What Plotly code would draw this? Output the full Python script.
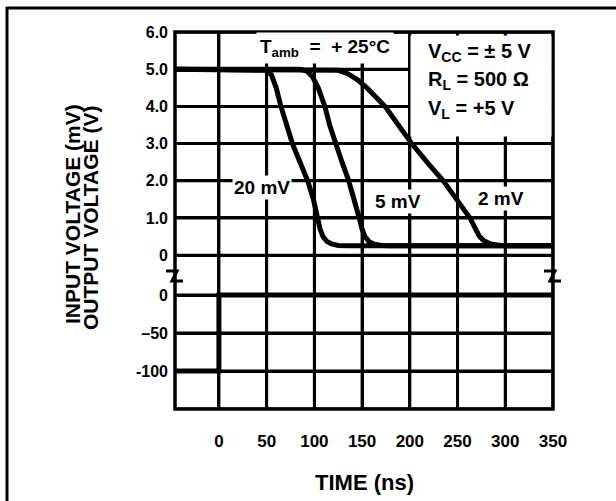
import plotly.graph_objects as go
from plotly.subplots import make_subplots

# ---------------- data ----------------
time_20mv = [-46, 45, 50, 55, 60, 65, 71, 77, 85, 93, 99, 103, 106, 109, 113, 118, 125, 135, 350]
vout_20mv = [5.0, 5.0, 4.97, 4.85, 4.5, 4.0, 3.5, 3.0, 2.5, 2.0, 1.5, 1.0, 0.7, 0.5, 0.37, 0.3, 0.26, 0.25, 0.25]

time_5mv = [-46, 85, 92, 98, 104, 111, 116, 122, 129, 136, 142, 147, 150, 153, 157, 162, 170, 180, 350]
vout_5mv = [5.0, 5.0, 4.95, 4.8, 4.5, 4.0, 3.5, 3.0, 2.5, 2.0, 1.5, 1.0, 0.7, 0.5, 0.37, 0.3, 0.26, 0.25, 0.25]

time_2mv = [-46, 115, 125, 135, 145, 155, 165, 174, 188, 202, 218, 235, 249, 263, 268, 273, 278, 285, 295, 305, 350]
vout_2mv = [5.0, 5.0, 4.97, 4.88, 4.72, 4.5, 4.25, 4.0, 3.5, 3.0, 2.5, 2.0, 1.5, 1.0, 0.75, 0.5, 0.38, 0.3, 0.26, 0.25, 0.25]

time_in = [-46, 0, 0, 350]
vin_mv = [-100, -100, 0, 0]

x_ticks = [0, 50, 100, 150, 200, 250, 300, 350]
x_ticktext = ["0", "50", "100", "150", "200", "250", "300", "350"]
out_ticks = [0, 1, 2, 3, 4, 5, 6]
out_ticktext = ["0", "1.0", "2.0", "3.0", "4.0", "5.0", "6.0"]
in_ticks = [-150, -100, -50, 0]
in_ticktext = [" ", "-100", "\u201350", "0"]

curve_labels = [("20 mV", 45, 1.83), ("5 mV", 188, 1.45), ("2 mV", 296, 1.53)]

# ---------------- layout geometry (pixels) ----------------
W, H = 616, 501
L, R, T, B = 175, 553, 32, 409
pw, ph = R - L, B - T
split_px = 276
split = (B - split_px) / ph

def xp(px):
    return (px - L) / pw

def yp(py):
    return (B - py) / ph

fig = make_subplots(rows=2, cols=1, shared_xaxes=False, vertical_spacing=0,
                    row_heights=[1 - split, split])
fig.update_layout(yaxis=dict(domain=[split, 1]), yaxis2=dict(domain=[0, split]))

for tx, vy in [(time_20mv, vout_20mv), (time_5mv, vout_5mv), (time_2mv, vout_2mv)]:
    fig.add_trace(go.Scatter(x=tx, y=vy, mode="lines", line=dict(color="black", width=5),
                             showlegend=False, hoverinfo="skip"), row=1, col=1)
fig.add_trace(go.Scatter(x=time_in, y=vin_mv, mode="lines", line=dict(color="black", width=5),
                         showlegend=False, hoverinfo="skip"), row=2, col=1)

FONT = "Liberation Sans, Arial, sans-serif"
tickfont = dict(family=FONT, size=16, color="black", weight="bold")
grid = dict(showgrid=True, gridcolor="black", gridwidth=3, zeroline=False, showline=False,
            ticks="", automargin=False)

fig.update_xaxes(range=[-46, 350], tickvals=x_ticks, ticktext=x_ticktext, **grid)
fig.update_xaxes(showticklabels=False, row=1, col=1)
fig.update_xaxes(showticklabels=True, tickfont=dict(tickfont, size=17), ticklabelstandoff=20, row=2, col=1)
fig.update_yaxes(range=[-0.56, 6], tickvals=out_ticks, ticktext=out_ticktext, tickfont=tickfont,
                 ticklabelstandoff=6, row=1, col=1, **grid)
fig.update_yaxes(range=[-150, 25], tickvals=in_ticks, ticktext=in_ticktext, tickfont=tickfont,
                 ticklabelstandoff=6, row=2, col=1, **grid)

gline = dict(color="black", width=3)
shapes = []
# grid lines following the axis ticks
for xv in x_ticks:
    shapes.append(dict(type="line", xref="x", yref="paper", x0=xv, x1=xv, y0=0, y1=1,
                       line=gline, layer="below"))
for yv in out_ticks:
    shapes.append(dict(type="line", xref="paper", yref="y", x0=0, x1=1, y0=yv, y1=yv,
                       line=gline, layer="below"))
for yv in in_ticks:
    shapes.append(dict(type="line", xref="paper", yref="y2", x0=0, x1=1, y0=yv, y1=yv,
                       line=gline, layer="below"))
# plot border
shapes.append(dict(type="rect", xref="paper", yref="paper", x0=0, x1=1, y0=0, y1=1,
                   line=dict(color="black", width=3.5), layer="above"))
# axis break marks on both edges
for xa in (0, 1):
    shapes.append(dict(type="path", xref="paper", yref="paper", xsizemode="pixel", ysizemode="pixel",
                       xanchor=xa, yanchor=split, path="M -9,5 L 2,5 L -3,-5 L 8,-5",
                       line=dict(color="black", width=3), layer="above"))
# outer page frame (left and top edges)
shapes.append(dict(type="line", xref="paper", yref="paper", x0=xp(7), x1=xp(7), y0=yp(7), y1=yp(505),
                   line=dict(color="black", width=3), layer="above"))
shapes.append(dict(type="line", xref="paper", yref="paper", x0=xp(6), x1=xp(620), y0=yp(8), y1=yp(8),
                   line=dict(color="black", width=3), layer="above"))

annos = []
textfont = dict(family=FONT, size=19, color="black", weight="bold")
# white cleared block behind the test-condition texts
annos.append(dict(x=xp(481), y=yp(86), xref="paper", yref="paper", text=" ", width=140, height=100,
                  bgcolor="white", showarrow=False, xanchor="center", yanchor="middle", borderpad=0))
annos.append(dict(x=111, y=5.57, xref="x", yref="y",
                  text="T<sub>amb</sub>\u00a0\u00a0=\u00a0\u00a0+\u00a025\u00b0C",
                  showarrow=False, font=textfont, bgcolor="white", borderpad=3))
annos.append(dict(x=217, y=5.45, xref="x", yref="y", text="V<sub>CC</sub> = \u00b1\u00a05 V", xanchor="left",
                  showarrow=False, font=dict(textfont, size=20)))
annos.append(dict(x=217, y=4.70, xref="x", yref="y", text="R<sub>L</sub> = 500 \u03a9", xanchor="left",
                  showarrow=False, font=dict(textfont, size=20)))
annos.append(dict(x=217, y=3.92, xref="x", yref="y", text="V<sub>L</sub> = +5 V", xanchor="left",
                  showarrow=False, font=dict(textfont, size=20)))
for txt, tx, vy in curve_labels:
    annos.append(dict(x=tx, y=vy, xref="x", yref="y", text=txt, showarrow=False,
                      font=textfont, bgcolor="white", borderpad=1))

titlefont = dict(family=FONT, size=21, color="black", weight="bold")
annos.append(dict(x=xp(72), y=yp(214), xref="paper", yref="paper", text="INPUT VOLTAGE (mV)",
                  textangle=-90, showarrow=False, font=titlefont, xanchor="center", yanchor="middle"))
annos.append(dict(x=xp(90), y=yp(218), xref="paper", yref="paper", text="OUTPUT VOLTAGE (V)",
                  textangle=-90, showarrow=False, font=titlefont, xanchor="center", yanchor="middle"))
annos.append(dict(x=xp(364), y=yp(482), xref="paper", yref="paper", text="TIME (ns)",
                  showarrow=False, font=dict(titlefont, size=22), xanchor="center", yanchor="middle"))

fig.update_layout(width=W, height=H, margin=dict(l=L, r=W - R, t=T, b=H - B, autoexpand=False),
                  paper_bgcolor="white", plot_bgcolor="white", shapes=shapes, annotations=annos,
                  showlegend=False)

fig.write_html("out.html", config={"displayModeBar": False},
               post_script="document.body.style.margin='0px';")
